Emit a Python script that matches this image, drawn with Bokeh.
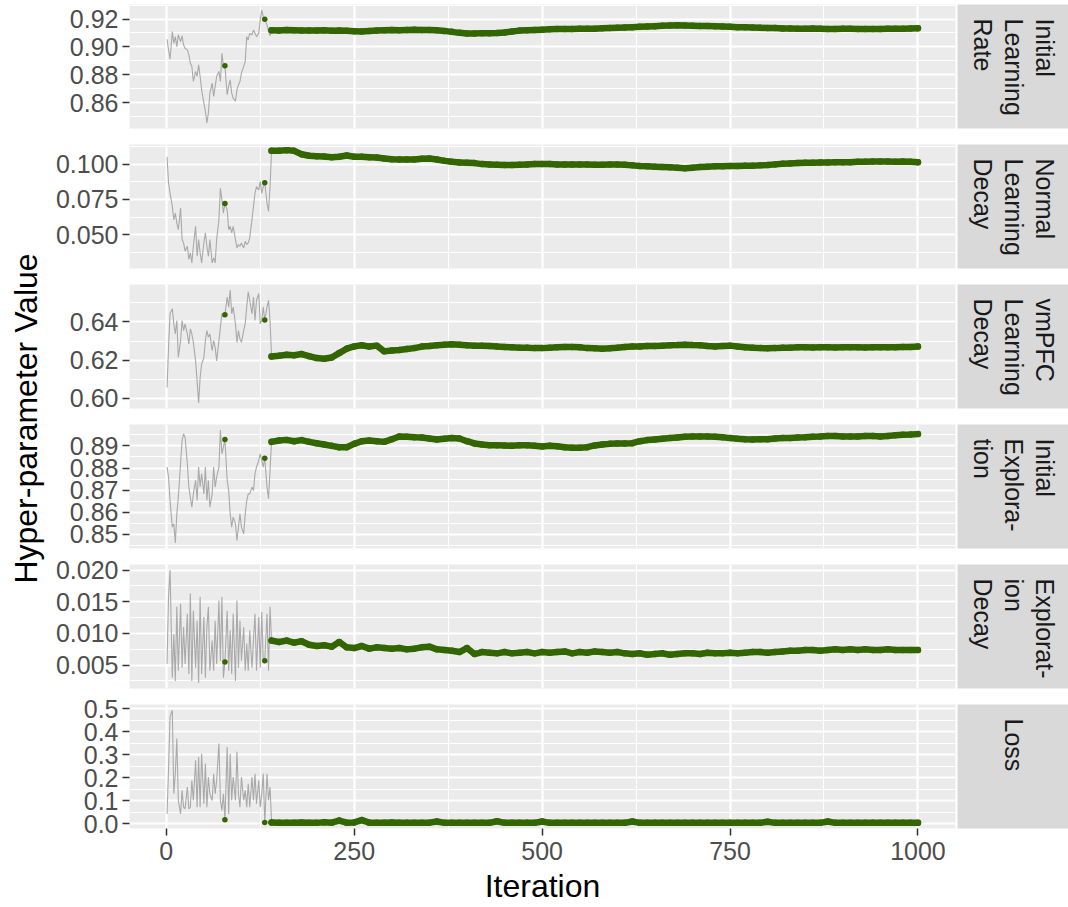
import math
from bokeh.plotting import figure
from bokeh.layouts import row, column
from bokeh.models import FixedTicker, PrintfTickFormatter, Range1d
from bokeh.core.properties import value
from bokeh.embed import file_html
from bokeh.resources import INLINE

# ---------------- data ----------------
panel_names = ["Initial\nLearning\nRate", "Normal\nLearning\nDecay", "vmPFC\nLearning\nDecay",
               "Initial\nExplora-\ntion", "Explorat-\nion\nDecay", "Loss"]

grey_iter = [1, 3, 5, 8, 10, 12, 14, 16, 19, 21, 23, 25, 28, 30, 32, 34, 36, 39, 41, 43,
             45, 47, 50, 52, 54, 56, 58, 61, 63, 65, 67, 70, 72, 74, 76, 78, 81, 83, 85, 87,
             89, 92, 94, 96, 98, 100, 103, 105, 107, 109, 111, 114, 116, 118, 120, 123, 125, 127, 129, 131,
             134, 136, 138, 140]

green_iter = [140, 150, 160, 170, 180, 190, 200, 210, 220, 230, 240, 250, 260, 270, 280, 290, 300,
              310, 320, 330, 340, 350, 360, 370, 380, 390, 400, 410, 420, 430, 440, 450, 460, 470,
              480, 490, 500, 510, 520, 530, 540, 550, 560, 570, 580, 590, 600, 610, 620, 630, 640,
              650, 660, 670, 680, 690, 700, 710, 720, 730, 740, 750, 760, 770, 780, 790, 800, 810,
              820, 830, 840, 850, 860, 870, 880, 890, 900, 910, 920, 930, 940, 950, 960, 970, 980,
              990, 1000]

dot_iter = [78, 131]

grey_lr = [0.9055, 0.8979, 0.8912, 0.9110, 0.9026, 0.9074, 0.9002, 0.9086, 0.9038, 0.9079,
           0.9014, 0.8990, 0.8979, 0.8943, 0.8883, 0.8860, 0.8752, 0.8824, 0.8788, 0.8871,
           0.8788, 0.8693, 0.8598, 0.8538, 0.8455, 0.8526, 0.8669, 0.8740, 0.8645, 0.8717,
           0.8788, 0.8824, 0.8752, 0.8955, 0.8860, 0.8864, 0.8657, 0.8717, 0.8764, 0.8669,
           0.8633, 0.8610, 0.8693, 0.8729, 0.8752, 0.8812, 0.8860, 0.8895, 0.9074, 0.9050,
           0.9098, 0.9086, 0.9121, 0.9098, 0.9074, 0.9098, 0.9193, 0.9264, 0.9217, 0.9198,
           0.9157, 0.9110, 0.9079, 0.9121]
green_lr = [0.9120, 0.9118, 0.9121, 0.9119, 0.9117, 0.9117, 0.9118, 0.9120, 0.9116, 0.9118,
            0.9116, 0.9113, 0.9110, 0.9114, 0.9118, 0.9119, 0.9121, 0.9120, 0.9122, 0.9123,
            0.9122, 0.9121, 0.9119, 0.9115, 0.9108, 0.9101, 0.9097, 0.9096, 0.9099, 0.9098,
            0.9100, 0.9104, 0.9110, 0.9117, 0.9120, 0.9122, 0.9124, 0.9126, 0.9128, 0.9128,
            0.9129, 0.9130, 0.9130, 0.9131, 0.9134, 0.9136, 0.9138, 0.9140, 0.9142, 0.9145,
            0.9147, 0.9149, 0.9152, 0.9154, 0.9155, 0.9154, 0.9152, 0.9151, 0.9150, 0.9148,
            0.9146, 0.9144, 0.9142, 0.9141, 0.9139, 0.9137, 0.9136, 0.9135, 0.9133, 0.9133,
            0.9131, 0.9131, 0.9132, 0.9131, 0.9129, 0.9129, 0.9130, 0.9130, 0.9129, 0.9129,
            0.9129, 0.9129, 0.9130, 0.9131, 0.9131, 0.9133, 0.9134]
dots_lr = [0.8864, 0.9198]

grey_nld = [0.1052, 0.0864, 0.0793, 0.0700, 0.0606, 0.0653, 0.0582, 0.0535, 0.0688, 0.0465,
            0.0441, 0.0383, 0.0418, 0.0324, 0.0371, 0.0300, 0.0418, 0.0559, 0.0347, 0.0465,
            0.0371, 0.0300, 0.0441, 0.0512, 0.0418, 0.0347, 0.0465, 0.0300, 0.0336, 0.0300,
            0.0465, 0.0606, 0.0829, 0.0746, 0.0653, 0.0721, 0.0676, 0.0535, 0.0559, 0.0512,
            0.0559, 0.0465, 0.0406, 0.0430, 0.0418, 0.0441, 0.0406, 0.0453, 0.0430, 0.0441,
            0.0477, 0.0606, 0.0700, 0.0793, 0.0840, 0.0817, 0.0876, 0.0793, 0.0840, 0.0868,
            0.0723, 0.0664, 0.0840, 0.1087]
green_nld = [0.1094, 0.1094, 0.1099, 0.1094, 0.1070, 0.1059, 0.1056, 0.1054, 0.1049, 0.1052,
             0.1061, 0.1052, 0.1052, 0.1049, 0.1047, 0.1040, 0.1035, 0.1033, 0.1033, 0.1033,
             0.1038, 0.1040, 0.1033, 0.1023, 0.1016, 0.1012, 0.1009, 0.1007, 0.1000, 0.0998,
             0.0995, 0.0993, 0.0993, 0.0995, 0.0998, 0.1000, 0.1000, 0.1000, 0.0998, 0.0998,
             0.0998, 0.0998, 0.0998, 0.0995, 0.0995, 0.0998, 0.0998, 0.0995, 0.0991, 0.0986,
             0.0984, 0.0981, 0.0979, 0.0977, 0.0974, 0.0970, 0.0974, 0.0979, 0.0981, 0.0984,
             0.0984, 0.0986, 0.0986, 0.0988, 0.0988, 0.0991, 0.0993, 0.0998, 0.1002, 0.1005,
             0.1007, 0.1009, 0.1009, 0.1012, 0.1012, 0.1014, 0.1014, 0.1014, 0.1016, 0.1016,
             0.1019, 0.1019, 0.1019, 0.1016, 0.1019, 0.1016, 0.1014]
dots_nld = [0.0721, 0.0868]

grey_vld = [0.6056, 0.6267, 0.6443, 0.6470, 0.6390, 0.6337, 0.6408, 0.6214, 0.6302, 0.6408,
            0.6355, 0.6390, 0.6337, 0.6285, 0.6364, 0.6337, 0.6293, 0.6196, 0.6091, 0.5976,
            0.6108, 0.6179, 0.6214, 0.6302, 0.6355, 0.6320, 0.6337, 0.6249, 0.6302, 0.6267,
            0.6196, 0.6302, 0.6373, 0.6443, 0.6426, 0.6438, 0.6531, 0.6478, 0.6567, 0.6443,
            0.6478, 0.6390, 0.6293, 0.6355, 0.6311, 0.6293, 0.6355, 0.6390, 0.6478, 0.6558,
            0.6514, 0.6443, 0.6531, 0.6408, 0.6514, 0.6549, 0.6390, 0.6408, 0.6478, 0.6411,
            0.6478, 0.6514, 0.6408, 0.6223]
green_vld = [0.6219, 0.6223, 0.6228, 0.6226, 0.6232, 0.6221, 0.6211, 0.6207, 0.6214, 0.6237,
             0.6260, 0.6272, 0.6278, 0.6271, 0.6276, 0.6246, 0.6251, 0.6253, 0.6258, 0.6263,
             0.6271, 0.6274, 0.6278, 0.6281, 0.6283, 0.6281, 0.6278, 0.6276, 0.6276, 0.6274,
             0.6271, 0.6269, 0.6267, 0.6265, 0.6265, 0.6263, 0.6263, 0.6265, 0.6267, 0.6269,
             0.6269, 0.6267, 0.6263, 0.6262, 0.6260, 0.6262, 0.6265, 0.6269, 0.6271, 0.6272,
             0.6274, 0.6274, 0.6276, 0.6278, 0.6279, 0.6281, 0.6279, 0.6278, 0.6274, 0.6272,
             0.6274, 0.6276, 0.6271, 0.6267, 0.6265, 0.6263, 0.6262, 0.6263, 0.6265, 0.6265,
             0.6267, 0.6268, 0.6266, 0.6267, 0.6268, 0.6266, 0.6267, 0.6268, 0.6267, 0.6266,
             0.6267, 0.6268, 0.6267, 0.6267, 0.6269, 0.6269, 0.6271]
dots_vld = [0.6438, 0.6411]

grey_ie = [0.8804, 0.8759, 0.8653, 0.8533, 0.8548, 0.8462, 0.8593, 0.8668, 0.8819, 0.8924,
           0.8954, 0.8939, 0.8819, 0.8714, 0.8668, 0.8623, 0.8683, 0.8744, 0.8653, 0.8804,
           0.8714, 0.8774, 0.8683, 0.8804, 0.8653, 0.8744, 0.8623, 0.8683, 0.8804, 0.8714,
           0.8759, 0.8804, 0.8971, 0.8864, 0.8894, 0.8929, 0.8744, 0.8698, 0.8593, 0.8533,
           0.8578, 0.8548, 0.8473, 0.8533, 0.8593, 0.8533, 0.8503, 0.8593, 0.8653, 0.8683,
           0.8683, 0.8714, 0.8698, 0.8774, 0.8804, 0.8834, 0.8864, 0.8834, 0.8804, 0.8844,
           0.8714, 0.8661, 0.8789, 0.8921]
green_ie = [0.8918, 0.8924, 0.8927, 0.8921, 0.8926, 0.8918, 0.8912, 0.8906, 0.8900, 0.8894,
            0.8894, 0.8909, 0.8921, 0.8924, 0.8921, 0.8918, 0.8930, 0.8942, 0.8941, 0.8939,
            0.8938, 0.8933, 0.8929, 0.8932, 0.8935, 0.8933, 0.8921, 0.8911, 0.8906, 0.8903,
            0.8903, 0.8902, 0.8900, 0.8903, 0.8903, 0.8900, 0.8897, 0.8900, 0.8898, 0.8894,
            0.8892, 0.8891, 0.8894, 0.8902, 0.8906, 0.8909, 0.8911, 0.8911, 0.8912, 0.8921,
            0.8926, 0.8929, 0.8932, 0.8935, 0.8938, 0.8941, 0.8942, 0.8942, 0.8942, 0.8941,
            0.8939, 0.8935, 0.8932, 0.8930, 0.8929, 0.8930, 0.8930, 0.8933, 0.8935, 0.8936,
            0.8938, 0.8939, 0.8941, 0.8942, 0.8944, 0.8944, 0.8942, 0.8942, 0.8942, 0.8944,
            0.8944, 0.8942, 0.8945, 0.8948, 0.8950, 0.8951, 0.8953]
dots_ie = [0.8929, 0.8844]

grey_ed = [0.0052, 0.0160, 0.0200, 0.0030, 0.0099, 0.0025, 0.0142, 0.0041, 0.0147, 0.0046,
           0.0110, 0.0052, 0.0131, 0.0036, 0.0163, 0.0025, 0.0136, 0.0046, 0.0120, 0.0022,
           0.0158, 0.0036, 0.0126, 0.0030, 0.0110, 0.0142, 0.0041, 0.0089, 0.0041, 0.0120,
           0.0052, 0.0152, 0.0057, 0.0158, 0.0030, 0.0055, 0.0136, 0.0041, 0.0105, 0.0036,
           0.0131, 0.0025, 0.0152, 0.0046, 0.0120, 0.0057, 0.0110, 0.0041, 0.0084, 0.0041,
           0.0105, 0.0046, 0.0089, 0.0131, 0.0041, 0.0126, 0.0046, 0.0134, 0.0057, 0.0057,
           0.0131, 0.0041, 0.0142, 0.0089]
green_ed = [0.00887, 0.00866, 0.00887, 0.00855, 0.00876, 0.00823, 0.00802, 0.00813, 0.00792, 0.00866,
            0.00781, 0.00770, 0.00802, 0.00760, 0.00781, 0.00770, 0.00760, 0.00770, 0.00749, 0.00760,
            0.00781, 0.00792, 0.00749, 0.00739, 0.00728, 0.00707, 0.00770, 0.00675, 0.00707, 0.00696,
            0.00686, 0.00707, 0.00686, 0.00696, 0.00707, 0.00686, 0.00707, 0.00696, 0.00707, 0.00717,
            0.00686, 0.00707, 0.00696, 0.00717, 0.00707, 0.00696, 0.00707, 0.00686, 0.00675, 0.00686,
            0.00664, 0.00675, 0.00686, 0.00664, 0.00675, 0.00686, 0.00686, 0.00675, 0.00696, 0.00686,
            0.00686, 0.00696, 0.00686, 0.00696, 0.00707, 0.00707, 0.00696, 0.00707, 0.00717, 0.00728,
            0.00728, 0.00739, 0.00739, 0.00728, 0.00739, 0.00749, 0.00739, 0.00749, 0.00739, 0.00749,
            0.00739, 0.00739, 0.00749, 0.00739, 0.00739, 0.00739, 0.00739]
dots_ed = [0.0055, 0.0057]

grey_loss = [0.043, 0.239, 0.464, 0.493, 0.130, 0.217, 0.370, 0.101, 0.043, 0.145,
             0.072, 0.065, 0.159, 0.065, 0.072, 0.188, 0.101, 0.275, 0.072, 0.290,
             0.072, 0.304, 0.087, 0.261, 0.072, 0.203, 0.130, 0.101, 0.217, 0.130,
             0.188, 0.348, 0.101, 0.058, 0.130, 0.017, 0.333, 0.043, 0.304, 0.101,
             0.203, 0.101, 0.312, 0.130, 0.072, 0.203, 0.101, 0.145, 0.072, 0.174,
             0.072, 0.203, 0.101, 0.217, 0.087, 0.188, 0.072, 0.130, 0.217, 0.006,
             0.217, 0.101, 0.159, 0.014]
green_loss = [0.006, 0.005, 0.005, 0.004, 0.006, 0.005, 0.004, 0.007, 0.005, 0.014,
              0.005, 0.006, 0.016, 0.005, 0.004, 0.005, 0.006, 0.004, 0.005, 0.005,
              0.004, 0.005, 0.010, 0.004, 0.005, 0.004, 0.005, 0.004, 0.005, 0.004,
              0.011, 0.004, 0.005, 0.004, 0.005, 0.004, 0.010, 0.004, 0.005, 0.004,
              0.005, 0.004, 0.004, 0.005, 0.004, 0.004, 0.005, 0.004, 0.010, 0.004,
              0.004, 0.005, 0.004, 0.004, 0.004, 0.005, 0.004, 0.004, 0.004, 0.005,
              0.004, 0.004, 0.005, 0.004, 0.004, 0.004, 0.009, 0.004, 0.004, 0.005,
              0.004, 0.004, 0.005, 0.004, 0.010, 0.004, 0.004, 0.005, 0.004, 0.004,
              0.005, 0.004, 0.004, 0.004, 0.005, 0.004, 0.004]
dots_loss = [0.017, 0.006]

greys = [grey_lr, grey_nld, grey_vld, grey_ie, grey_ed, grey_loss]
greens = [green_lr, green_nld, green_vld, green_ie, green_ed, green_loss]
dots = [dots_lr, dots_nld, dots_vld, dots_ie, dots_ed, dots_loss]

y_major = [[0.86, 0.88, 0.90, 0.92], [0.05, 0.075, 0.10], [0.60, 0.62, 0.64],
           [0.85, 0.86, 0.87, 0.88, 0.89], [0.005, 0.010, 0.015, 0.020], [0.0, 0.1, 0.2, 0.3, 0.4, 0.5]]
y_minor = [[0.85, 0.87, 0.89, 0.91, 0.93], [0.0375, 0.0625, 0.0875, 0.1125], [0.59, 0.61, 0.63, 0.65],
           [0.845, 0.855, 0.865, 0.875, 0.885, 0.895], [0.0025, 0.0075, 0.0125, 0.0175],
           [0.05, 0.15, 0.25, 0.35, 0.45]]
y_fmt = ["%.2f", "%.3f", "%.2f", "%.2f", "%.3f", "%.1f"]
x_major = [0, 250, 500, 750, 1000]
x_minor = [125, 375, 625, 875]

# ---------------- style ----------------
FONT = "Liberation Sans"
TICK_SIZE = "25px"
TITLE_SIZE = "32px"
GREEN = "#336600"
GREY = "#A9A9A9"
LEFT_W = 50
FRAME_W = 826
FRAME_H = 124
STRIP_W = 111
TOTAL_H = 907

rows = []
for i in range(6):
    top = 4 if i == 0 else 8
    bottom = 79 if i == 5 else 8
    allv = greys[i] + greens[i] + dots[i]
    lo, hi = min(allv), max(allv)
    pad = 0.05 * (hi - lo)
    allx = grey_iter + green_iter
    xlo, xhi = min(allx), max(allx)
    xpad = 0.05 * (xhi - xlo)
    p = figure(frame_width=FRAME_W, frame_height=FRAME_H,
               x_range=Range1d(xlo - xpad, xhi + xpad), y_range=Range1d(lo - pad, hi + pad),
               output_backend="svg", toolbar_location=None, tools="",
               x_axis_location=("below" if i == 5 else None),
               min_border_left=129 - LEFT_W, min_border_right=2,
               min_border_top=top, min_border_bottom=bottom)
    p.background_fill_color = "#EBEBEB"
    p.border_fill_color = "white"
    p.outline_line_color = None

    xt = FixedTicker(ticks=x_major, minor_ticks=x_minor)
    yt = FixedTicker(ticks=y_major[i], minor_ticks=y_minor[i])
    p.xgrid.ticker = xt
    p.ygrid.ticker = yt
    for g in (p.xgrid, p.ygrid):
        g.grid_line_color = "white"
        g.grid_line_width = 2.2
        g.minor_grid_line_color = "white"
        g.minor_grid_line_width = 1.1

    axes = [p.yaxis[0]]
    p.yaxis.ticker = yt
    p.yaxis.formatter = PrintfTickFormatter(format=y_fmt[i])
    if i == 5:
        p.xaxis.ticker = xt
        p.xaxis.axis_label = "Iteration"
        p.xaxis.axis_label_text_font = FONT
        p.xaxis.axis_label_text_font_size = TITLE_SIZE
        p.xaxis.axis_label_text_font_style = "normal"
        p.xaxis.axis_label_text_color = "black"
        p.xaxis.axis_label_standoff = 5
        axes.append(p.xaxis[0])
    for ax in axes:
        ax.axis_line_color = None
        ax.major_tick_line_color = "#333333"
        ax.major_tick_line_width = 1.5
        ax.major_tick_out = 7
        ax.major_tick_in = 0
        ax.minor_tick_line_color = None
        ax.major_label_text_font = FONT
        ax.major_label_text_font_size = TICK_SIZE
        ax.major_label_text_color = "#4D4D4D"
        ax.major_label_standoff = 4
    if i == 5:
        p.xaxis.major_label_standoff = 6

    p.line(grey_iter, greys[i], line_color=GREY, line_width=1.1)
    p.line(green_iter, greens[i], line_color=GREEN, line_width=6.5, line_join="round", line_cap="round")
    p.scatter(green_iter, greens[i], size=6.5, fill_color=GREEN, line_color=None)
    p.scatter(dot_iter, dots[i], size=5.5, fill_color=GREEN, line_color=None)

    s = figure(frame_width=STRIP_W, frame_height=FRAME_H, x_range=Range1d(0, STRIP_W),
               y_range=Range1d(0, FRAME_H), output_backend="svg", toolbar_location=None, tools="",
               x_axis_location=None, y_axis_location=None,
               min_border_left=0, min_border_right=0, min_border_top=top, min_border_bottom=bottom)
    s.xgrid.visible = False
    s.ygrid.visible = False
    s.background_fill_color = "#D9D9D9"
    s.border_fill_color = "white"
    s.outline_line_color = None
    s.text(x=[STRIP_W / 2 + 1], y=[FRAME_H - 14], text=[panel_names[i]], angle=-math.pi / 2,
           text_align="left", text_baseline="middle", text_font=value(FONT),
           text_font_size=TICK_SIZE, text_color="#1A1A1A", text_line_height=1.1)
    rows.append(row(p, s))

t = figure(frame_width=LEFT_W, frame_height=TOTAL_H, x_range=Range1d(0, LEFT_W), y_range=Range1d(0, TOTAL_H),
           output_backend="svg", toolbar_location=None, tools="",
           x_axis_location=None, y_axis_location=None,
           min_border_left=0, min_border_right=0, min_border_top=0, min_border_bottom=0)
t.xgrid.visible = False
t.ygrid.visible = False
t.outline_line_color = None
t.background_fill_color = "white"
t.text(x=[25], y=[TOTAL_H - 418], text=["Hyper-parameter Value"], angle=math.pi / 2,
       text_align="center", text_baseline="middle", text_font=value(FONT),
       text_font_size=TITLE_SIZE, text_color="black")

layout = row(t, column(*rows))

open("out.html", "w").write(file_html(layout, INLINE))
